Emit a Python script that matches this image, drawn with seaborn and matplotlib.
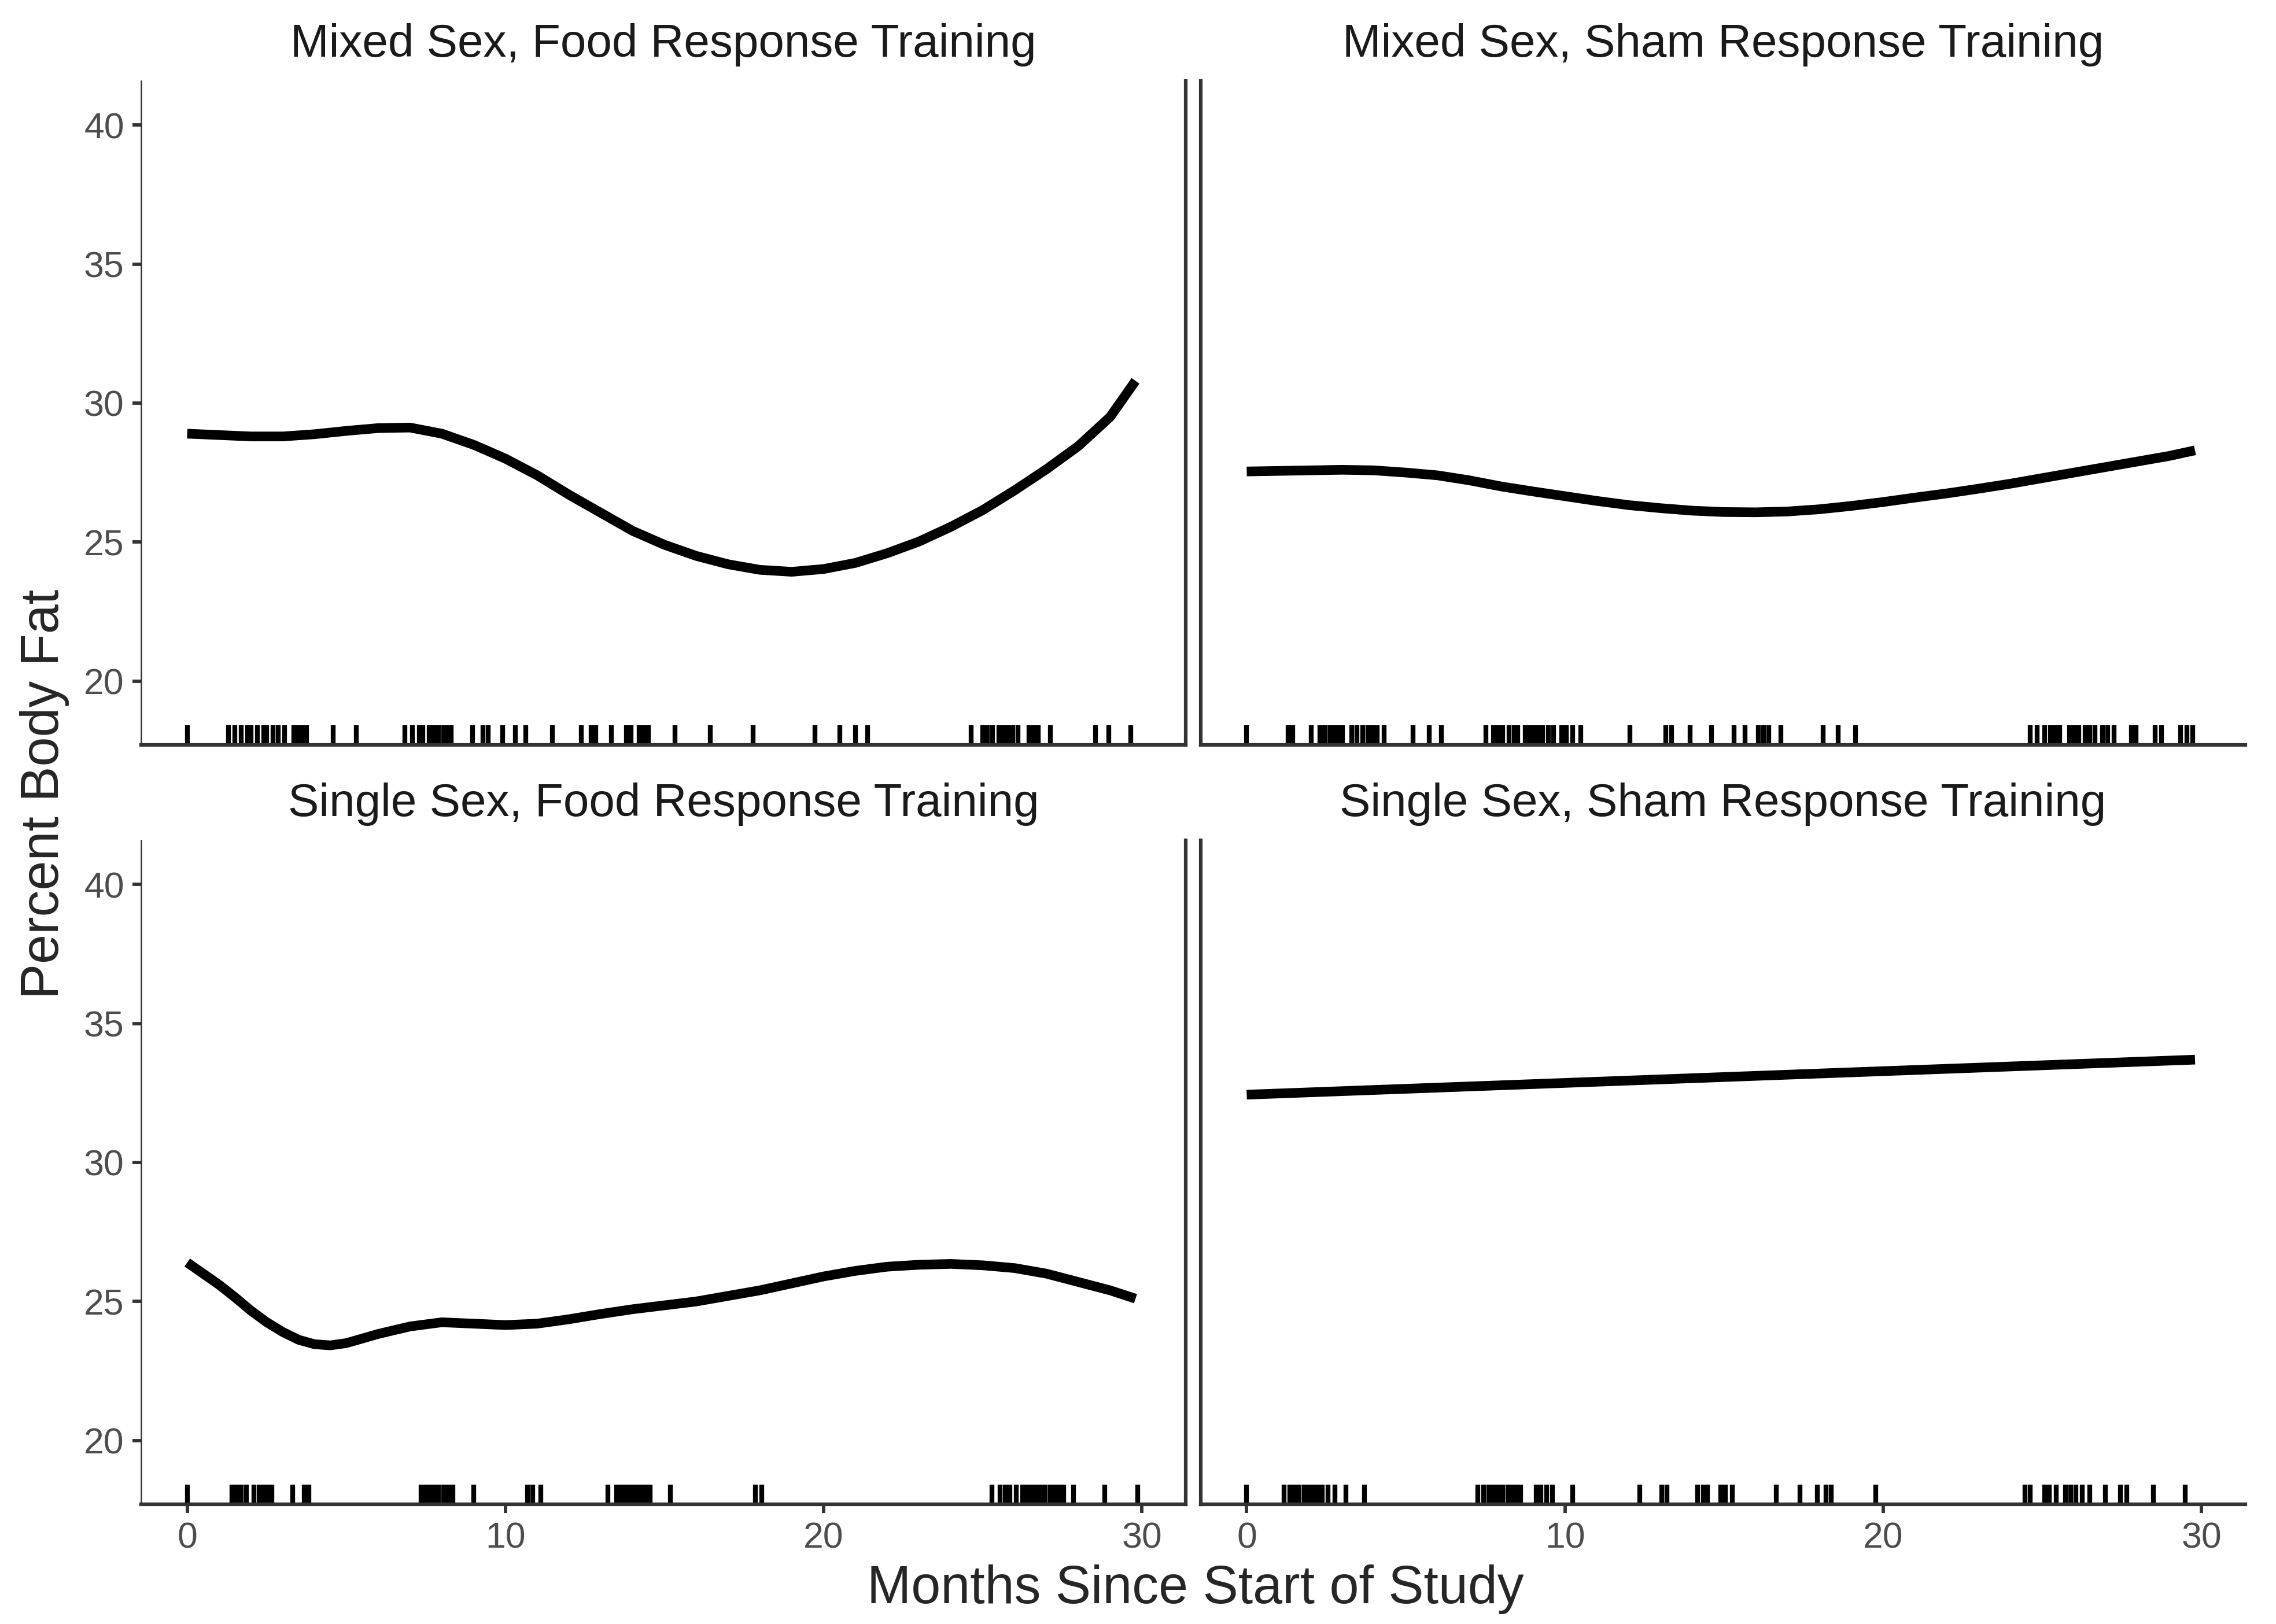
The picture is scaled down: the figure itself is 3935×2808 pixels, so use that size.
import numpy as np
import pandas as pd
import matplotlib
matplotlib.use('Agg')
import matplotlib.pyplot as plt
import seaborn as sns

sns.set_style('white')
plt.rcParams['font.family'] = ['Liberation Sans', 'DejaVu Sans']

# panel titles (facet order: top-left, top-right, bottom-left, bottom-right)
panels = ['Mixed Sex, Food Response Training', 'Mixed Sex, Sham Response Training',
          'Single Sex, Food Response Training', 'Single Sex, Sham Response Training']

# smoothed fit (months, percent body fat)
fit_x_mf = [0, 1, 2, 3, 4, 5, 6, 7, 8, 9, 10, 11, 12, 13, 14, 15, 16, 17, 18, 19, 20,
            21, 22, 23, 24, 25, 26, 27, 28, 29, 29.8]
fit_y_mf = [28.9, 28.85, 28.8, 28.8, 28.88, 29.0, 29.1, 29.12, 28.9, 28.5, 28.0, 27.4,
            26.7, 26.05, 25.4, 24.9, 24.5, 24.2, 24.0, 23.93, 24.03, 24.25, 24.6, 25.02,
            25.55, 26.15, 26.86, 27.62, 28.45, 29.5, 30.8]

fit_x_ms = [0, 1, 2, 3, 4, 5, 6, 7, 8, 9, 10, 11, 12, 13, 14, 15, 16, 17, 18, 19, 20,
            21, 22, 23, 24, 25, 26, 27, 28, 29, 29.8]
fit_y_ms = [27.54, 27.56, 27.58, 27.6, 27.58, 27.5, 27.4, 27.22, 27.0, 26.82, 26.65, 26.48,
            26.33, 26.22, 26.13, 26.08, 26.07, 26.1, 26.18, 26.3, 26.44, 26.6, 26.75, 26.92,
            27.1, 27.3, 27.5, 27.7, 27.9, 28.1, 28.3]

fit_x_sf = [0, 0.5, 1, 1.5, 2, 2.5, 3, 3.5, 4, 4.5, 5, 6, 7, 8, 9, 10, 11, 12, 13, 14, 15,
            16, 17, 18, 19, 20, 21, 22, 23, 24, 25, 26, 27, 28, 29, 29.8]
fit_y_sf = [26.4, 26.0, 25.6, 25.15, 24.67, 24.25, 23.9, 23.62, 23.46, 23.42, 23.5, 23.83,
            24.1, 24.25, 24.2, 24.15, 24.2, 24.36, 24.55, 24.72, 24.86, 25.0, 25.2, 25.4,
            25.65, 25.9, 26.1, 26.25, 26.32, 26.35, 26.3, 26.2, 26.0, 25.7, 25.4, 25.1]

fit_x_ss = [0, 29.8]
fit_y_ss = [32.44, 33.7]

# observation times shown as rug marks (months)
rug_mf = [0.0, 1.3, 1.5, 1.7, 1.9, 2.0, 2.2, 2.4, 2.5, 2.7, 2.85, 3.05, 3.35, 3.5, 3.6, 3.75,
          4.59, 5.32, 6.84, 7.07, 7.3, 7.4, 7.6, 7.75, 7.9, 8.05, 8.2, 8.3, 8.97, 9.3, 9.45,
          9.92, 10.31, 10.64, 11.48, 12.39, 12.69, 12.84, 13.33, 13.8, 13.95, 14.2, 14.35,
          14.5, 15.33, 16.44, 17.79, 19.73, 20.5, 21.0, 21.38, 24.64, 25.0, 25.15, 25.3,
          25.5, 25.65, 25.8, 25.95, 26.1, 26.45, 26.6, 26.75, 27.12, 28.54, 28.96, 29.65]

rug_ms = [0.0, 1.3, 1.45, 2.02, 2.3, 2.45, 2.6, 2.75, 2.9, 3.0, 3.3, 3.47, 3.65, 3.8, 3.95,
          4.1, 4.32, 5.23, 5.73, 6.12, 7.52, 7.75, 7.9, 8.05, 8.25, 8.4, 8.51, 8.75, 8.9,
          9.05, 9.15, 9.3, 9.48, 9.64, 9.9, 10.05, 10.24, 10.5, 12.05, 13.17, 13.35, 13.93,
          14.61, 15.31, 15.66, 16.08, 16.25, 16.4, 16.79, 18.12, 18.58, 19.14, 24.62, 24.83,
          25.07, 25.25, 25.4, 25.55, 25.85, 26.0, 26.15, 26.35, 26.45, 26.5, 26.65, 26.9,
          27.05, 27.26, 27.8, 27.95, 28.55, 28.75, 29.35, 29.55, 29.72]

rug_sf = [0.0, 1.4, 1.55, 1.7, 1.85, 2.1, 2.25, 2.4, 2.55, 2.65, 3.32, 3.68, 3.82, 7.35,
          7.5, 7.62, 7.75, 7.9, 8.05, 8.2, 8.35, 9.0, 10.7, 10.85, 11.11, 13.22, 13.5, 13.6,
          13.75, 13.9, 14.0, 14.1, 14.2, 14.28, 14.4, 14.55, 15.19, 17.85, 18.05, 25.28,
          25.55, 25.7, 25.85, 26.05, 26.25, 26.4, 26.5, 26.65, 26.8, 26.95, 27.1, 27.25,
          27.4, 27.55, 27.86, 28.83, 29.86]

rug_ss = [0.0, 1.18, 1.35, 1.5, 1.65, 1.8, 1.95, 2.1, 2.25, 2.38, 2.55, 2.78, 3.12, 3.7,
          7.27, 7.45, 7.6, 7.75, 7.9, 8.05, 8.2, 8.35, 8.5, 8.6, 9.1, 9.25, 9.43, 9.6,
          10.25, 12.35, 13.05, 13.2, 14.17, 14.35, 14.48, 14.9, 15.05, 15.26, 16.65, 17.38,
          17.93, 18.21, 18.37, 19.76, 24.45, 24.62, 25.07, 25.22, 25.43, 25.73, 25.9, 26.05,
          26.26, 26.5, 26.99, 27.45, 27.65, 28.5, 29.5]

fits = [(fit_x_mf, fit_y_mf), (fit_x_ms, fit_y_ms), (fit_x_sf, fit_y_sf), (fit_x_ss, fit_y_ss)]
rugs = [rug_mf, rug_ms, rug_sf, rug_ss]

x_ticks = [0, 10, 20, 30]
y_ticks = [20, 25, 30, 35, 40]

fig = plt.figure(figsize=(3935 / 300, 2808 / 300), dpi=300)

lefts = [0.062, 0.5275]
bottoms = [0.5413, 0.0737]
w, h = 0.459, 0.409
spine_col = '#333333'

for i, title in enumerate(panels):
    row, col = divmod(i, 2)
    ax = fig.add_axes([lefts[col], bottoms[row], w, h])
    fx, fy = fits[i]
    d = pd.DataFrame({'x': fx, 'y': fy})
    sns.lineplot(data=d, x='x', y='y', ax=ax, color='black', linewidth=4.0,
                 solid_capstyle='butt', solid_joinstyle='round')
    sns.rugplot(x=rugs[i], ax=ax, height=0.03, color='black', linewidth=2.0,
                expand_margins=False)

    ax.set_xlim(-1.45, 31.38)
    ax.set_ylim(17.7, 41.6)
    ax.set_xticks(x_ticks)
    ax.set_yticks(y_ticks)
    ax.set_xlabel('')
    ax.set_ylabel('')
    ax.set_title(title, fontsize=19.2, color='#1A1A1A', pad=10)

    ax.spines['top'].set_visible(False)
    ax.spines['bottom'].set_color(spine_col)
    ax.spines['bottom'].set_linewidth(1.5)
    if col == 0:
        ax.spines['left'].set_color(spine_col)
        ax.spines['left'].set_linewidth(0.6)
        ax.spines['right'].set_color(spine_col)
        ax.spines['right'].set_linewidth(1.5)
    else:
        ax.spines['left'].set_color(spine_col)
        ax.spines['left'].set_linewidth(1.5)
        ax.spines['right'].set_visible(False)

    ax.tick_params(axis='both', colors=spine_col, labelcolor='#4D4D4D', labelsize=15,
                   length=3.5, width=1.4, pad=3.5, direction='out')
    ax.tick_params(axis='x', bottom=(row == 1), labelbottom=(row == 1))
    ax.tick_params(axis='y', left=(col == 0), labelleft=(col == 0))
    ax.grid(False)

fig.text(0.5253, 0.0215, 'Months Since Start of Study', ha='center', va='center', fontsize=22)
fig.text(0.0195, 0.511, 'Percent Body Fat', ha='center', va='center', rotation=90, fontsize=22)

fig.savefig('out.png', dpi=300, facecolor='white')
